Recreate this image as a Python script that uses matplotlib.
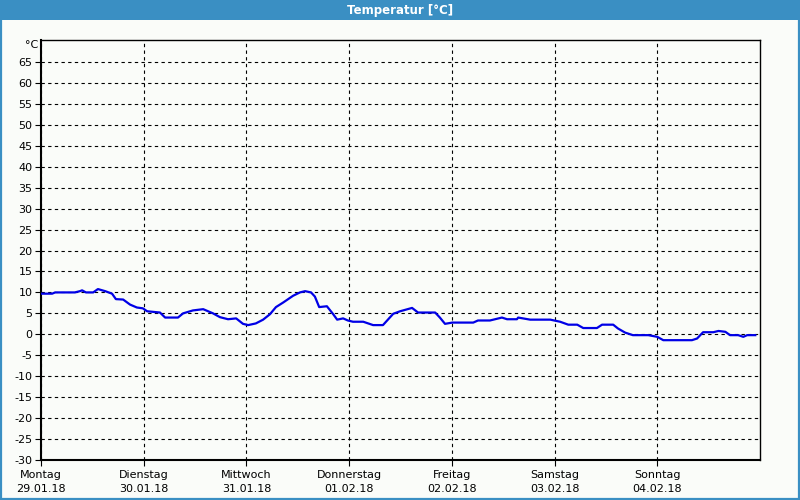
import matplotlib
matplotlib.use("Agg")
import matplotlib.pyplot as plt
from matplotlib.patches import Rectangle

# data: hours since Montag 29.01.18 00:00, temperature in °C
hours = [0, 2.6, 3.3, 7.9, 9.1, 9.6, 10.5, 12.2, 13.3, 15.0, 16.6, 17.5, 19.2, 20.8, 22.4,
         23.8, 24.8, 27.8, 29.0, 32.0, 33.2, 35.5, 37.9, 40.2, 41.8, 43.7, 45.6, 47.2, 48.4,
         50.2, 51.9, 53.5, 54.9, 56.6, 58.9, 60.5, 61.7, 63.1, 64.0, 65.0, 66.8, 68.2, 69.2,
         70.6, 71.7, 72.9, 75.3, 77.6, 79.9, 82.3, 83.9, 86.7, 88.1, 92.1, 93.2, 94.4, 96.1,
         101.0, 102.1, 104.9, 107.7, 108.9, 111.2, 111.5, 114.3, 119.0, 121.3, 123.2, 125.3,
         126.7, 129.9, 131.1, 133.7, 134.8, 136.5, 138.3, 141.9, 144.0, 145.4, 152.1, 153.3,
         154.7, 157.1, 158.3, 159.9, 161.0, 162.9, 164.1, 165.0, 166.9]
temps = [9.7, 9.7, 10.0, 10.0, 10.3, 10.5, 10.0, 10.0, 10.8, 10.3, 9.7, 8.4, 8.3, 7.1, 6.4,
         6.2, 5.5, 5.2, 4.0, 4.0, 5.0, 5.7, 6.0, 5.0, 4.1, 3.6, 3.8, 2.5, 2.2,
         2.6, 3.5, 4.8, 6.5, 7.6, 9.2, 10.0, 10.3, 10.0, 9.0, 6.5, 6.7, 4.9, 3.5,
         3.8, 3.3, 3.0, 3.0, 2.2, 2.2, 4.9, 5.5, 6.3, 5.2, 5.2, 4.0, 2.5, 2.8,
         2.8, 3.3, 3.3, 4.0, 3.6, 3.6, 4.0, 3.5, 3.5, 3.0, 2.3, 2.3,
         1.5, 1.5, 2.3, 2.3, 1.4, 0.4, -0.2, -0.2, -0.6, -1.4, -1.4, -1.0,
         0.5, 0.5, 0.8, 0.6, -0.2, -0.2, -0.6, -0.2, -0.2]
day_names = ["Montag", "Dienstag", "Mittwoch", "Donnerstag", "Freitag", "Samstag", "Sonntag"]
day_dates = ["29.01.18", "30.01.18", "31.01.18", "01.02.18", "02.02.18", "03.02.18", "04.02.18"]
y_ticks = list(range(-30, 70, 5))

bg = "#fafcf9"
blue_bar = "#3a8fc3"

fig = plt.figure(figsize=(8, 5), dpi=100, facecolor=bg)

# title bar
fig.patches.append(Rectangle((0, 1 - 20 / 500), 1, 20 / 500, transform=fig.transFigure,
                             facecolor=blue_bar, edgecolor="none", zorder=0))
fig.patches.append(Rectangle((0.001, 0.002), 0.998, 0.99, transform=fig.transFigure,
                             facecolor="none", edgecolor=blue_bar, linewidth=1.6, zorder=0))
fig.text(0.5, 1 - 10.5 / 500, "Temperatur [°C]", color="white", fontsize=8.5,
         fontweight="bold", ha="center", va="center")

ax = fig.add_axes([41 / 800, 40 / 500, 719 / 800, 420 / 500])
ax.set_facecolor(bg)
ax.plot([h / 24 for h in hours], temps, color="#0000e6", linewidth=1.6, zorder=3)

ax.set_xlim(0, 7)
ax.set_ylim(-30, 70.25)
ax.set_yticks(y_ticks)
ax.set_yticklabels([str(v) for v in y_ticks], fontsize=8)
ax.set_xticks(range(7))
ax.set_xticklabels([f"{n}\n{d}" for n, d in zip(day_names, day_dates)], fontsize=8,
                   linespacing=1.55)

ax.grid(True, color="black", linestyle=(0, (3, 3)), linewidth=0.8)
for s in ax.spines.values():
    s.set_color("black")
    s.set_linewidth(1.0)
ax.spines["left"].set_linewidth(1.5)
ax.spines["bottom"].set_linewidth(1.5)
ax.tick_params(axis="both", direction="out", length=4, width=0.8, color="black", pad=2)
ax.tick_params(axis="x", pad=3)

ax.text(-0.004, 69.0, "°C", fontsize=8, ha="right", va="center",
        transform=ax.get_yaxis_transform())

fig.savefig("out.png", dpi=100, facecolor=bg)
